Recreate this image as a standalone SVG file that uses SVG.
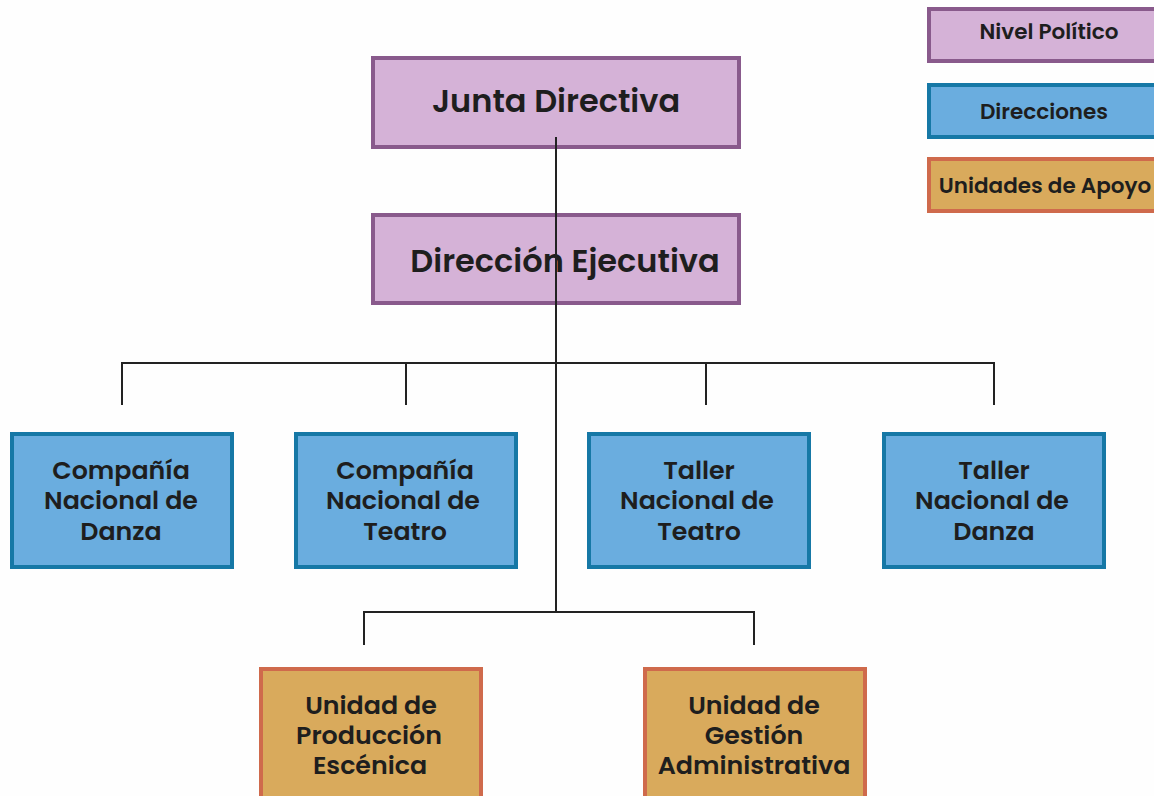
<svg xmlns="http://www.w3.org/2000/svg" width="1154" height="796" viewBox="0 0 1154 796">
<style>
.t{font-family:"Poppins","Open Sans","Noto Sans",sans-serif;font-weight:600;fill:#1e1e1e;text-anchor:middle}
.pol{fill:#d5b2d7;stroke:#895a8c;stroke-width:4}
.dir{fill:#6aaddf;stroke:#1678a6;stroke-width:4}
.uni{fill:#d9aa5c;stroke:#cf6a4c;stroke-width:4}
.ln{stroke:#222;stroke-width:2;fill:none}
.big{font-size:32px}
.mid{font-size:25.3px}
.leg{font-size:21.5px}
</style>
<rect width="1154" height="796" fill="#fefefe"/>
<g id="legend-politico"><rect class="pol" x="929" y="9" width="240" height="52"/><text class="t leg" x="1049" y="39">Nivel Político</text></g>
<g id="legend-direcciones"><rect class="dir" x="929" y="85" width="240" height="52"/><text class="t leg" x="1044" y="119">Direcciones</text></g>
<g id="legend-apoyo"><rect class="uni" x="929" y="159" width="240" height="52"/><text class="t leg" x="1045" y="193">Unidades de Apoyo</text></g>
<g id="junta"><rect class="pol" x="373" y="58" width="366" height="89"/><text class="t big" x="556" y="112">Junta Directiva</text></g>
<g id="direccion"><rect class="pol" x="373" y="215" width="366" height="88"/><text class="t big" x="565" y="272">Dirección Ejecutiva</text></g>
<g id="cnd"><rect class="dir" x="12" y="434" width="220" height="133"/><text class="t mid" x="121" y="479">Compañía</text><text class="t mid" x="121" y="509">Nacional de</text><text class="t mid" x="121" y="540">Danza</text></g>
<g id="cnt"><rect class="dir" x="296" y="434" width="220" height="133"/><text class="t mid" x="405" y="479">Compañía</text><text class="t mid" x="403" y="509">Nacional de</text><text class="t mid" x="405" y="540">Teatro</text></g>
<g id="tnt"><rect class="dir" x="589" y="434" width="220" height="133"/><text class="t mid" x="699" y="479">Taller</text><text class="t mid" x="697" y="509">Nacional de</text><text class="t mid" x="699" y="540">Teatro</text></g>
<g id="tnd"><rect class="dir" x="884" y="434" width="220" height="133"/><text class="t mid" x="994" y="479">Taller</text><text class="t mid" x="992" y="509">Nacional de</text><text class="t mid" x="994" y="540">Danza</text></g>
<g id="upe"><rect class="uni" x="261" y="669" width="220" height="140"/><text class="t mid" x="371" y="714">Unidad de</text><text class="t mid" x="369" y="744">Producción</text><text class="t mid" x="370" y="774">Escénica</text></g>
<g id="uga"><rect class="uni" x="645" y="669" width="220" height="140"/><text class="t mid" x="754" y="714">Unidad de</text><text class="t mid" x="754" y="744">Gestión</text><text class="t mid" x="754" y="774">Administrativa</text></g>
<g id="connectors">
<path class="ln" d="M556 137V612"/>
<path class="ln" d="M122 405V363H994V405M406 363V405M706 363V405"/>
<path class="ln" d="M364 645V612H754V645"/>
</g>
</svg>
